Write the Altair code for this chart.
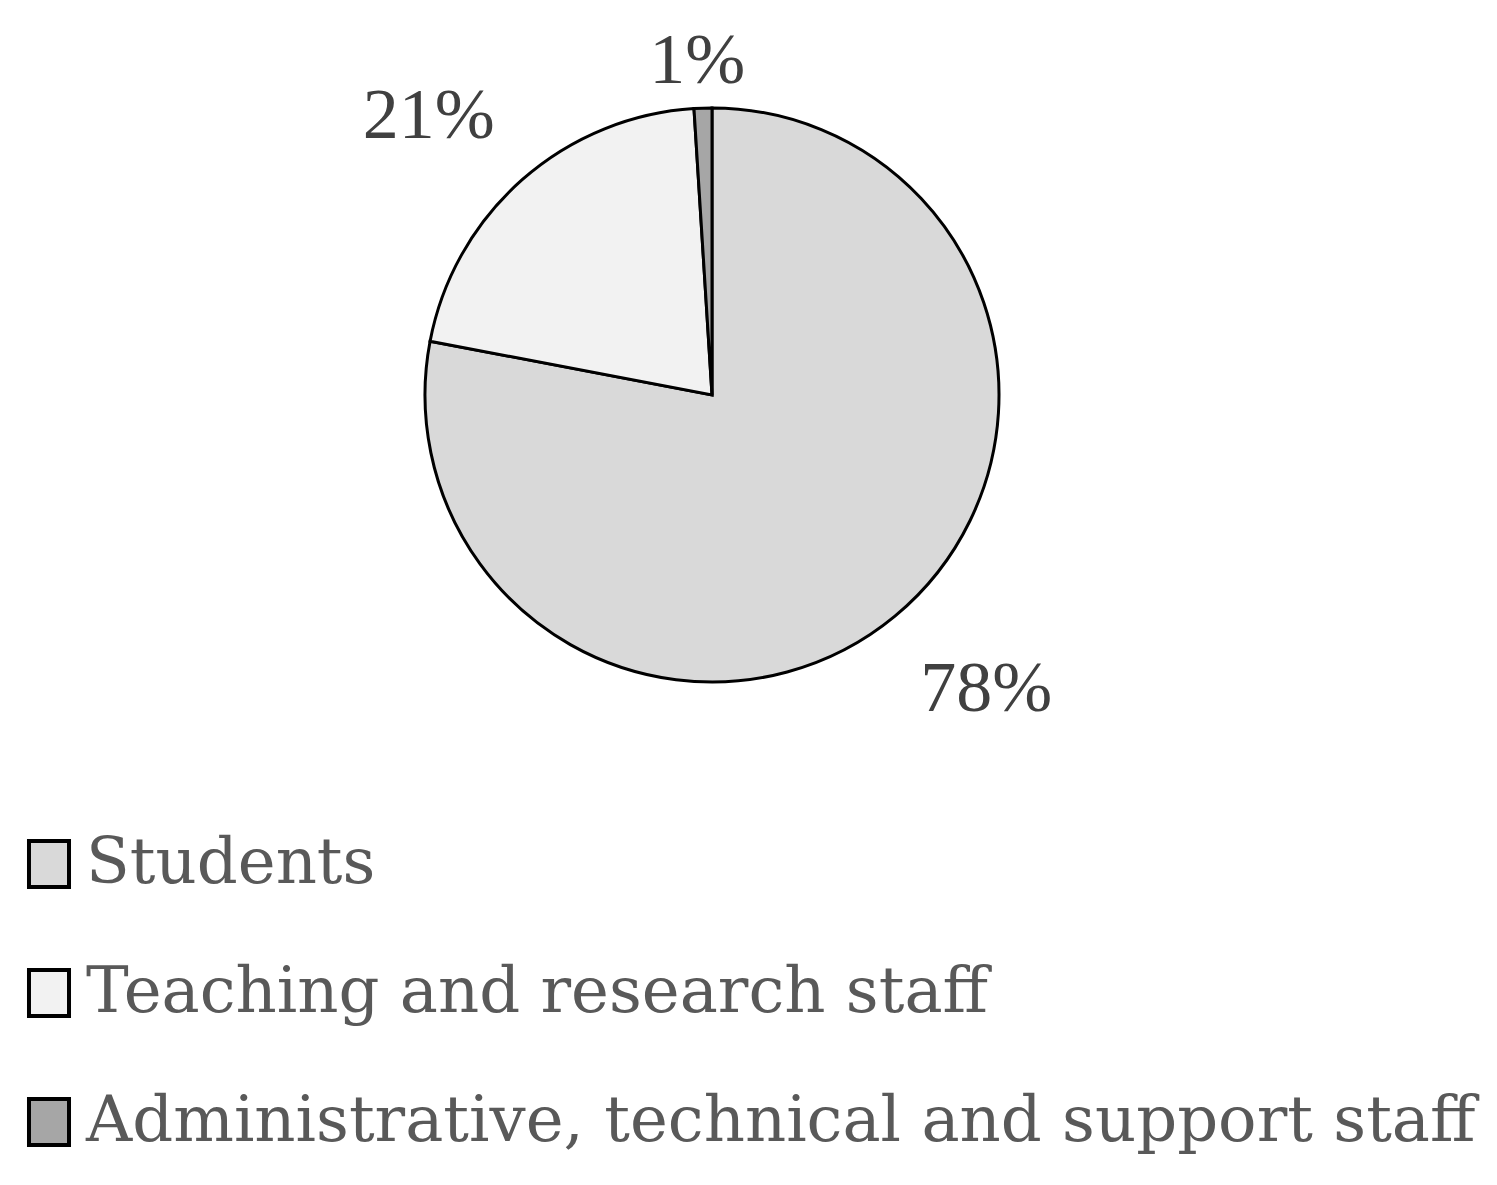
import altair as alt
import pandas as pd

categories = ["Students", "Teaching and research staff", "Administrative, technical and support staff"]
shares = [78, 21, 1]
labels = ["78%", "21%", "1%"]
colors = ["#d9d9d9", "#f2f2f2", "#a6a6a6"]

df = pd.DataFrame({"category": categories, "share": shares, "label": labels, "idx": list(range(len(categories)))})

cx, cy = 704, 387

pie = alt.Chart(df).mark_arc(outerRadius=287, stroke="black", strokeWidth=3).encode(
    theta=alt.Theta("share:Q", stack=True),
    order=alt.Order("idx:Q", sort="ascending"),
    x=alt.value(cx),
    y=alt.value(cy),
    color=alt.Color(
        "category:N",
        sort=categories,
        scale=alt.Scale(domain=categories, range=colors),
        legend=alt.Legend(
            orient="none", legendX=9, legendY=824, title=None,
            symbolType="M-0.87,-1H0.87V1H-0.87Z", symbolSize=2116,
            symbolStrokeColor="black", symbolStrokeWidth=4, symbolOpacity=1,
            labelFont="DejaVu Serif", labelFontSize=64, labelColor="#595959",
            labelOffset=5, rowPadding=65, labelLimit=3000, padding=0,
        ),
    ),
)

text = alt.Chart(df).transform_joinaggregate(
    total="sum(share)"
).transform_window(
    cum="sum(share)", sort=[alt.SortField("idx", order="ascending")], frame=[None, 0]
).transform_calculate(
    ang="2*PI*(datum.cum - datum.share/2)/datum.total + (datum.share < 5 ? -0.7 : -3.7)*PI/180",
    labelR="datum.share < 5 ? 337 : 400",
).mark_text(
    font="Liberation Serif", fontSize=72, color="#404040", align="center", baseline="middle", dy=3
).encode(
    theta=alt.Theta("ang:Q", scale=None),
    radius=alt.Radius("labelR:Q", scale=None),
    x=alt.value(cx),
    y=alt.value(cy),
    text="label:N",
)

chart = alt.layer(pie, text).properties(
    width=1481, height=1169, autosize=alt.AutoSizeParams(type="none"), padding=0
).configure_view(stroke=None)

chart.save("out.html", embed_options={"renderer": "svg", "actions": False})
